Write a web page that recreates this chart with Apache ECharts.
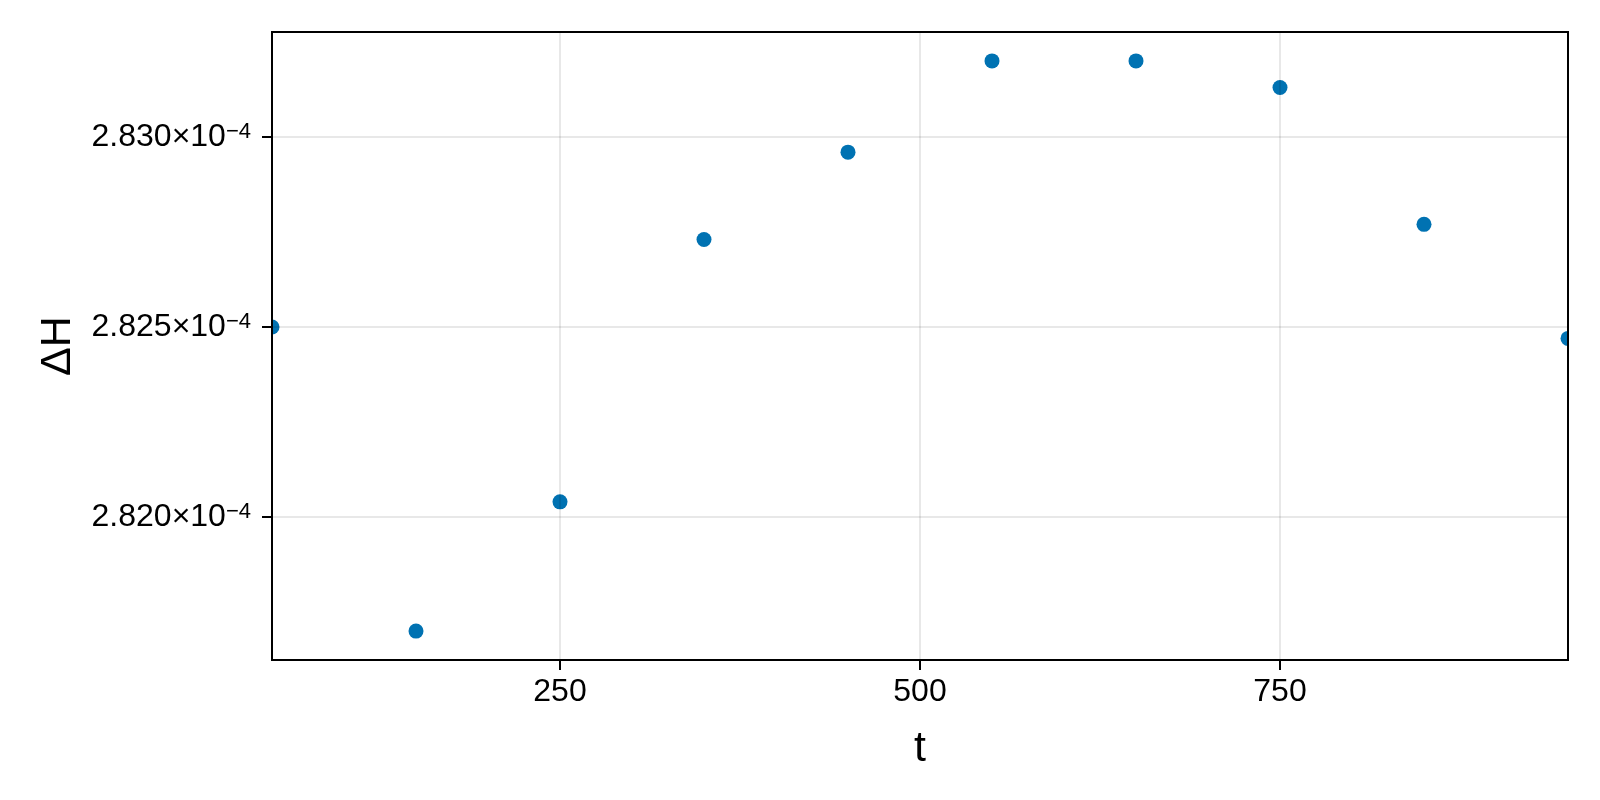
<!DOCTYPE html>
<html>
<head>
<meta charset="utf-8">
<script src="https://cdn.jsdelivr.net/npm/echarts@6/dist/echarts.min.js"></script>
<style>
	html, body { margin: 0; padding: 0; background: #ffffff; }
	#main { width: 1600px; height: 800px; }
</style>
</head>
<body>
<div id="main"></div>
<script>
// 数据 (ΔH 以 1e-4 为单位)
var tValues = [50, 150, 250, 350, 450, 550, 650, 750, 850, 950];
var dHValues = [2.8250, 2.8170, 2.8204, 2.8273, 2.8296, 2.8320, 2.8320, 2.8313, 2.8277, 2.8247];
var xTicks = [250, 500, 750];
var yTicks = [2.820, 2.825, 2.830];
var yExponent = '−4';

var points = [];
for (var i = 0; i < tValues.length; i++) {
	points.push([tValues[i], dHValues[i]]);
}

var fontName = 'Liberation Sans';
var gridLine = { show : true, lineStyle : { color : 'rgba(0,0,0,0.12)', width : 1.5 } };

var myChart = echarts.init(document.getElementById('main'));
var option = {
	backgroundColor : '#ffffff',
	animation : false,
	grid : {
		left : 272,
		right : 32,
		top : 32,
		bottom : 140,
		show : true,
		z : 6,
		borderColor : '#000000',
		borderWidth : 2,
		backgroundColor : 'transparent'
	},
	// 绘图区外的点被裁掉 (左右两侧遮挡)
	graphic : [
		{ type : 'rect', z : 3, silent : true, shape : { x : 0, y : 0, width : 271, height : 800 }, style : { fill : '#ffffff' } },
		{ type : 'rect', z : 3, silent : true, shape : { x : 1569, y : 0, width : 31, height : 800 }, style : { fill : '#ffffff' } }
	],
	xAxis : {
		type : 'value',
		z : 5,
		min : 50,
		max : 950,
		name : 't',
		nameLocation : 'middle',
		nameGap : 68,
		nameTextStyle : { fontFamily : fontName, fontSize : 43, color : '#000' },
		axisLine : { show : true, onZero : false, lineStyle : { color : '#000', width : 2 } },
		axisTick : { show : true, length : 10, customValues : xTicks, lineStyle : { color : '#000', width : 2 } },
		axisLabel : {
			customValues : xTicks,
			margin : 16,
			fontFamily : fontName,
			fontSize : 32,
			color : '#000'
		},
		splitLine : gridLine
	},
	yAxis : {
		type : 'value',
		z : 5,
		min : 2.81624,
		max : 2.83276,
		name : 'ΔH',
		nameLocation : 'middle',
		nameGap : 192,
		nameTextStyle : { fontFamily : fontName, fontSize : 43, color : '#000' },
		axisLine : { show : true, onZero : false, lineStyle : { color : '#000', width : 2 } },
		axisTick : { show : true, length : 10, customValues : yTicks, lineStyle : { color : '#000', width : 2 } },
		axisLabel : {
			customValues : yTicks,
			margin : 21,
			formatter : function (v) {
				return '{m|' + v.toFixed(3) + '×10}{s|' + yExponent + '}';
			},
			rich : {
				m : { fontFamily : fontName, fontSize : 32, color : '#000' },
				s : { fontFamily : fontName, fontSize : 22, color : '#000', verticalAlign : 'top' }
			}
		},
		splitLine : gridLine
	},
	series : [ {
		type : 'scatter',
		z : 2,
		data : points,
		symbol : 'circle',
		symbolSize : 15,
		itemStyle : { color : '#0072B2', opacity : 1 }
	} ]
};
myChart.setOption(option);
</script>
</body>
</html>
